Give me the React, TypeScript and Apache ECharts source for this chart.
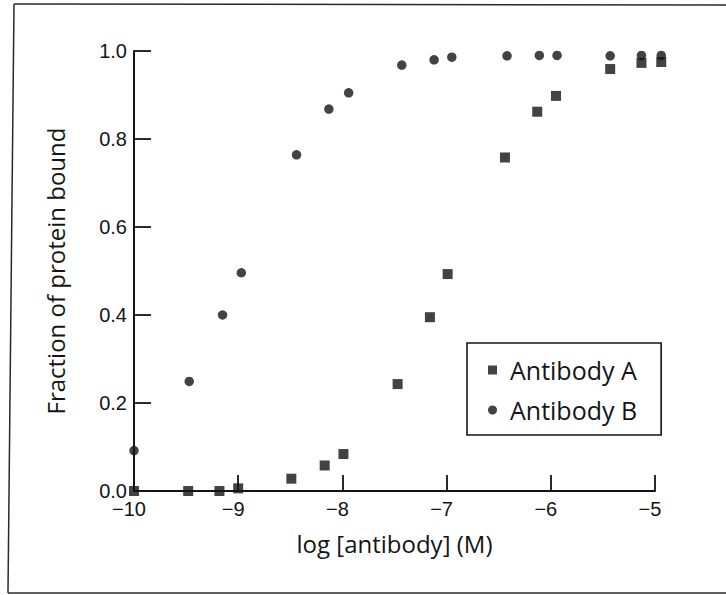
import React, { useEffect, useRef } from "react";
import * as echarts from "echarts";

const antibodyA_x = [-10, -9.48, -9.18, -9.0, -8.49, -8.17, -7.99, -7.47, -7.16, -6.99, -6.44, -6.13, -5.95, -5.43, -5.13, -4.94];
const antibodyA_y = [0.0, 0.0, 0.0, 0.006, 0.028, 0.058, 0.084, 0.243, 0.395, 0.493, 0.758, 0.862, 0.898, 0.959, 0.973, 0.975];

const antibodyB_x = [-10, -9.47, -9.15, -8.97, -8.44, -8.13, -7.94, -7.43, -7.12, -6.95, -6.42, -6.11, -5.94, -5.43, -5.13, -4.94];
const antibodyB_y = [0.092, 0.249, 0.4, 0.496, 0.764, 0.868, 0.905, 0.968, 0.98, 0.986, 0.989, 0.99, 0.99, 0.989, 0.99, 0.99];

const seriesNames = ["Antibody A", "Antibody B"];
const xTitle = "log [antibody] (M)";
const yTitle = "Fraction of protein bound";

const FONT = "'Open Sans', 'Noto Sans', sans-serif";
const TICK_FONT = "'Liberation Sans', Arial, sans-serif";
const INK = "#141414";

export default function App() {
  const ref = useRef<HTMLDivElement>(null);

  useEffect(() => {
    if (!ref.current) return;
    const chart = echarts.init(ref.current, null, { renderer: "svg" });
    const dataA = antibodyA_x.map((x, i) => [x, antibodyA_y[i]]);
    const dataB = antibodyB_x.map((x, i) => [x, antibodyB_y[i]]);

    chart.setOption({
      animation: false,
      backgroundColor: "#ffffff",
      textStyle: { fontFamily: FONT, color: INK },
      grid: { left: 134, right: 71, top: 51, bottom: 104, containLabel: false },
      legend: {
        orient: "vertical",
        left: 467,
        top: 343,
        padding: [13, 24, 11, 21],
        borderColor: INK,
        borderWidth: 1.6,
        itemWidth: 9,
        itemHeight: 9,
        itemGap: 12,
        data: [
          { name: seriesNames[0], icon: "rect" },
          { name: seriesNames[1], icon: "circle" },
        ],
        textStyle: {
          fontFamily: FONT,
          fontSize: 25,
          lineHeight: 28,
          color: INK,
          padding: [0, 0, 0, 8],
        },
      },
      xAxis: {
        type: "value",
        min: -10,
        max: -5,
        interval: 1,
        name: xTitle,
        nameLocation: "middle",
        nameGap: 40,
        nameTextStyle: { fontFamily: FONT, fontSize: 24, color: INK },
        axisLine: { show: true, onZero: false, lineStyle: { color: INK, width: 2 } },
        axisTick: { show: true, inside: true, length: 16, lineStyle: { color: INK, width: 1.8 } },
        axisLabel: {
          margin: 10,
          fontSize: 20,
          lineHeight: 16,
          padding: [0, 10, 0, 0],
          color: INK,
          fontFamily: TICK_FONT,
          formatter: (v: number) => String(v).replace("-", "\u2212"),
        },
        splitLine: { show: false },
      },
      yAxis: {
        type: "value",
        min: 0,
        max: 1,
        interval: 0.2,
        name: yTitle,
        nameLocation: "middle",
        nameGap: 67,
        nameTextStyle: { fontFamily: FONT, fontSize: 24, color: INK },
        axisLine: { show: true, onZero: false, lineStyle: { color: INK, width: 2 } },
        axisTick: { show: true, inside: true, length: 17, lineStyle: { color: INK, width: 1.8 } },
        axisLabel: {
          margin: 7,
          fontSize: 20,
          lineHeight: 16,
          color: INK,
          fontFamily: TICK_FONT,
          formatter: (v: number) => v.toFixed(1),
        },
        splitLine: { show: false },
      },
      series: [
        {
          name: seriesNames[0],
          type: "scatter",
          symbol: "rect",
          symbolSize: 10,
          clip: false,
          itemStyle: { color: INK },
          data: dataA,
        },
        {
          name: seriesNames[1],
          type: "scatter",
          symbol: "circle",
          symbolSize: 9.5,
          clip: false,
          itemStyle: { color: INK },
          data: dataB,
        },
      ],
      graphic: [
        {
          type: "line",
          silent: true,
          shape: { x1: 14, y1: 4, x2: 726, y2: 5 },
          style: { stroke: "#2a2a2a", lineWidth: 1.5 },
        },
        {
          type: "line",
          silent: true,
          shape: { x1: 14, y1: 4, x2: 8, y2: 593 },
          style: { stroke: "#2a2a2a", lineWidth: 1.5 },
        },
        {
          type: "line",
          silent: true,
          shape: { x1: 8, y1: 593, x2: 726, y2: 593 },
          style: { stroke: "#2a2a2a", lineWidth: 1.5 },
        },
      ],
    });

    return () => chart.dispose();
  }, []);

  return (
    <div
      ref={ref}
      style={{ position: "fixed", left: 0, top: 0, width: 726, height: 595 }}
    />
  );
}
